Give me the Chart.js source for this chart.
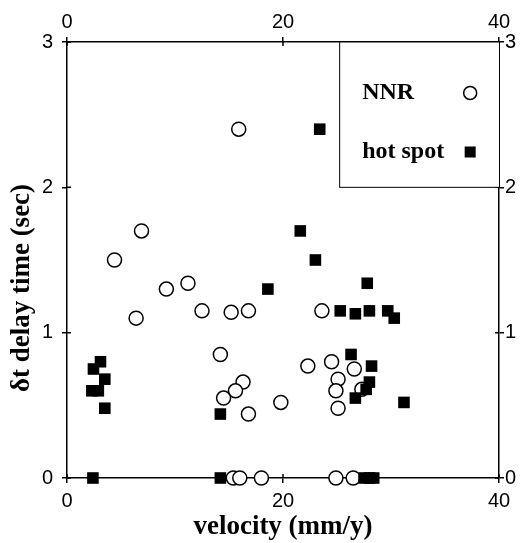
<!DOCTYPE html>
<html>
<head>
<meta charset="utf-8">
<script src="https://cdn.jsdelivr.net/npm/chart.js@4"></script>
<style>
  html, body { margin: 0; padding: 0; background: #fff; }
  #wrap { width: 527px; height: 543px; }
</style>
</head>
<body>
<div id="wrap"><canvas id="myChart" width="527" height="543"></canvas></div>
<script>
// NNR (open circles)
const nnrVelocity = [15.9, 4.4, 6.9, 9.2, 11.2, 6.4, 12.5, 15.2, 16.8, 14.2, 16.3, 15.6, 14.5, 16.8,
    19.8, 22.3, 23.6, 24.5, 26.6, 25.1, 24.9, 27.3, 25.1, 15.4, 16.0, 18.0, 24.9, 26.5];
const nnrDelay = [2.40, 1.50, 1.70, 1.30, 1.34, 1.10, 1.15, 1.14, 1.15, 0.85, 0.66, 0.60, 0.55, 0.44,
    0.52, 0.77, 1.15, 0.80, 0.75, 0.68, 0.60, 0.61, 0.48, 0, 0, 0, 0, 0];

// hot spot (filled squares)
const hotVelocity = [23.4, 21.6, 23.0, 18.6, 27.8, 25.3, 26.7, 28.0, 29.7, 30.3, 26.3, 28.2, 28.0, 27.7,
    26.7, 31.2, 3.1, 2.45, 3.5, 2.3, 2.9, 3.5, 14.2, 2.4, 14.2, 27.5, 28.0, 28.4];
const hotDelay = [2.40, 1.70, 1.50, 1.30, 1.34, 1.15, 1.13, 1.15, 1.15, 1.10, 0.85, 0.77, 0.66, 0.61,
    0.55, 0.52, 0.80, 0.75, 0.68, 0.60, 0.60, 0.48, 0.44, 0, 0, 0, 0, 0];

const xTicks = [0, 20, 40];
const yTicks = [0, 1, 2, 3];
const seriesNames = ["NNR", "hot spot"];
const xTitle = "velocity (mm/y)";
const yTitle = "\u03b4t delay time (sec)";
// legend box spans this velocity range, delay 2..3
const legendFrom = 25.2;

const toPoints = (xs, ys) => xs.map((v, i) => ({ x: v, y: ys[i] }));

const tickFont = { family: "'Liberation Sans', Arial, sans-serif", size: 20 };
const serif = "'Liberation Serif', 'Times New Roman', serif";

const sideScale = (axis, position, width, padding, ticks) => ({
    type: "linear",
    axis: axis,
    position: position,
    min: ticks[0],
    max: ticks[ticks.length - 1],
    afterBuildTicks: (scale) => { scale.ticks = ticks.map((v) => ({ value: v })); },
    afterFit: (scale) => {
        if (axis === "y") scale.width = width;
        else scale.height = width;
    },
    grid: { display: true, drawOnChartArea: false, drawTicks: true, tickLength: 5, color: "#000", lineWidth: 1.5 },
    border: { display: true, color: "#000", width: 1.5 },
    ticks: { color: "#000", font: tickFont, padding: padding, maxRotation: 0 },
});

const extras = {
    id: "extras",
    afterDatasetsDraw(chart) {
        const { ctx, chartArea: area, scales: { x, y } } = chart;
        ctx.save();
        // inward half of the crossing ticks
        ctx.strokeStyle = "#000";
        ctx.lineWidth = 1.5;
        ctx.beginPath();
        xTicks.forEach((v) => {
            const px = x.getPixelForValue(v);
            ctx.moveTo(px, area.bottom); ctx.lineTo(px, area.bottom - 4);
            ctx.moveTo(px, area.top); ctx.lineTo(px, area.top + 4);
        });
        yTicks.forEach((v) => {
            const py = y.getPixelForValue(v);
            ctx.moveTo(area.left, py); ctx.lineTo(area.left + 4, py);
            ctx.moveTo(area.right, py); ctx.lineTo(area.right - 4, py);
        });
        ctx.stroke();

        // legend box
        const left = x.getPixelForValue(legendFrom);
        const right = x.getPixelForValue(40);
        const top = y.getPixelForValue(3);
        const bottom = y.getPixelForValue(2);
        ctx.fillStyle = "#fff";
        ctx.fillRect(left, top, right - left, bottom - top);
        ctx.lineWidth = 1;
        ctx.strokeRect(left + 0.5, top, right - left, bottom - top);

        ctx.font = "bold 24px " + serif;
        ctx.fillStyle = "#000";
        ctx.textBaseline = "middle";
        ctx.textAlign = "left";
        const rows = [top + 51, top + 110];
        ctx.fillText(seriesNames[0], left + 23, rows[0]);
        ctx.fillText(seriesNames[1], left + 23, rows[1]);
        const mx = left + 131;
        ctx.beginPath();
        ctx.arc(mx, rows[0], 6.5, 0, Math.PI * 2);
        ctx.lineWidth = 1.5;
        ctx.fillStyle = "#fff";
        ctx.fill();
        ctx.stroke();
        ctx.fillStyle = "#000";
        ctx.fillRect(mx - 5.5, rows[1] - 5.5, 11, 11);

        // y title
        ctx.translate(22, 288);
        ctx.rotate(-Math.PI / 2);
        ctx.font = "bold 27px " + serif;
        ctx.textAlign = "center";
        ctx.fillText(yTitle, 0, 0);
        ctx.restore();
    },
};

const ctx = document.getElementById("myChart").getContext("2d");

const myChart = new Chart(ctx, {
    type: "scatter",
    data: {
        datasets: [
            {
                label: seriesNames[0],
                data: toPoints(nnrVelocity, nnrDelay),
                pointStyle: "circle",
                pointRadius: 7,
                pointBorderWidth: 1.5,
                borderColor: "#000",
                backgroundColor: "#fff",
                clip: false,
                order: 1,
            },
            {
                label: seriesNames[1],
                data: toPoints(hotVelocity, hotDelay),
                pointStyle: "rect",
                pointRadius: 8.2,
                pointBorderWidth: 0,
                borderColor: "#000",
                backgroundColor: "#000",
                clip: false,
                order: 0,
            },
        ],
    },
    options: {
        responsive: false,
        animation: false,
        layout: { padding: 0 },
        plugins: { legend: { display: false }, tooltip: { enabled: false } },
        scales: {
            x: {
                ...sideScale("x", "bottom", 65, 6, xTicks),
                title: {
                    display: true,
                    text: xTitle,
                    color: "#000",
                    font: { family: serif, size: 27, weight: "bold" },
                    padding: { top: 0, bottom: 0 },
                },
            },
            x2: sideScale("x", "top", 42, 3, xTicks),
            y: sideScale("y", "left", 67, 9, yTicks),
            y2: sideScale("y", "right", 28, 1, yTicks),
        },
    },
    plugins: [extras],
});
</script>
</body>
</html>
